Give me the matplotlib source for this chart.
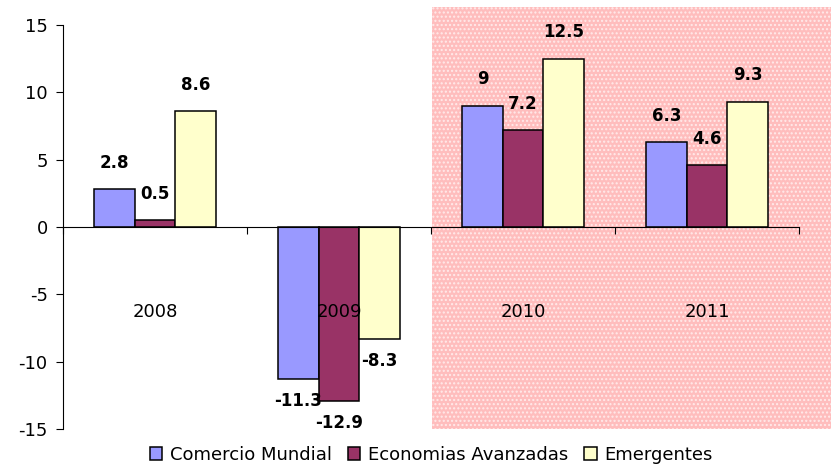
import matplotlib
matplotlib.use("Agg")
import matplotlib.pyplot as plt
from matplotlib.patches import Rectangle
import numpy as np

plt.rcParams['font.family'] = ['DejaVu Sans']
plt.rcParams['hatch.linewidth'] = 1.0

years = ['2008', '2009', '2010', '2011']
series = ['Comercio Mundial', 'Economias Avanzadas', 'Emergentes']
comercio = [2.8, -11.3, 9.0, 6.3]
avanzadas = [0.5, -12.9, 7.2, 4.6]
emergentes = [8.6, -8.3, 12.5, 9.3]
colors = ['#9999FF', '#993366', '#FFFFCC']
value_labels = [['2.8', '-11.3', '9', '6.3'],
                ['0.5', '-12.9', '7.2', '4.6'],
                ['8.6', '-8.3', '12.5', '9.3']]

W, H = 831, 467
fig = plt.figure(figsize=(W / 100, H / 100), dpi=100)
ax = fig.add_axes([63 / W, 1 - 429 / H, (799 - 63) / W, (429 - 25) / H])
ax.patch.set_alpha(0)

# shaded forecast region
rect = Rectangle((432 / W, 1 - 429 / H), (W - 432) / W, (429 - 7) / H,
                 transform=fig.transFigure, facecolor='#FFBDBD',
                 edgecolor='#FFEAEA', hatch='....', linewidth=0, zorder=-1)
fig.add_artist(rect)

x = np.arange(len(years))
bw = 0.22
for i, (vals, c) in enumerate(zip([comercio, avanzadas, emergentes], colors)):
    xs = x + (i - 1) * bw
    ax.bar(xs, vals, width=bw, color=c, edgecolor='black', linewidth=1.1,
           label=series[i], zorder=2)
    for xi, v, lab in zip(xs, vals, value_labels[i]):
        off = 19 if v >= 0 else -16
        ax.annotate(lab, (xi, v), xytext=(0, off), textcoords='offset points',
                    ha='center', va='center', fontsize=12, fontweight='bold',
                    zorder=4)

for xi, y in zip(x, years):
    ax.text(xi, -6.3, y, ha='center', va='center', fontsize=13, zorder=5)

ax.set_xlim(-0.5, 3.5)
ax.set_ylim(-15, 15)
ax.set_yticks([-15, -10, -5, 0, 5, 10, 15])
ax.set_yticklabels(['-15', '-10', '-5', '0', '5', '10', '15'], fontsize=13)
ax.set_xticks(np.arange(-0.5, 3.6, 1.0))
ax.set_xticklabels([])
ax.spines['top'].set_visible(False)
ax.spines['right'].set_visible(False)
ax.spines['bottom'].set_position(('data', 0))
ax.spines['bottom'].set_zorder(3)
ax.tick_params(axis='x', direction='out', length=5, width=0.8)
ax.tick_params(axis='y', direction='out', length=5, width=0.8, pad=6)

fig.legend(loc='center', bbox_to_anchor=(431 / W, 1 - 455 / H), ncol=3,
           frameon=False, fontsize=13, handlelength=0.7, handleheight=0.7,
           handletextpad=0.4, columnspacing=0.9, borderaxespad=0)

fig.savefig('out.png', dpi=100)
